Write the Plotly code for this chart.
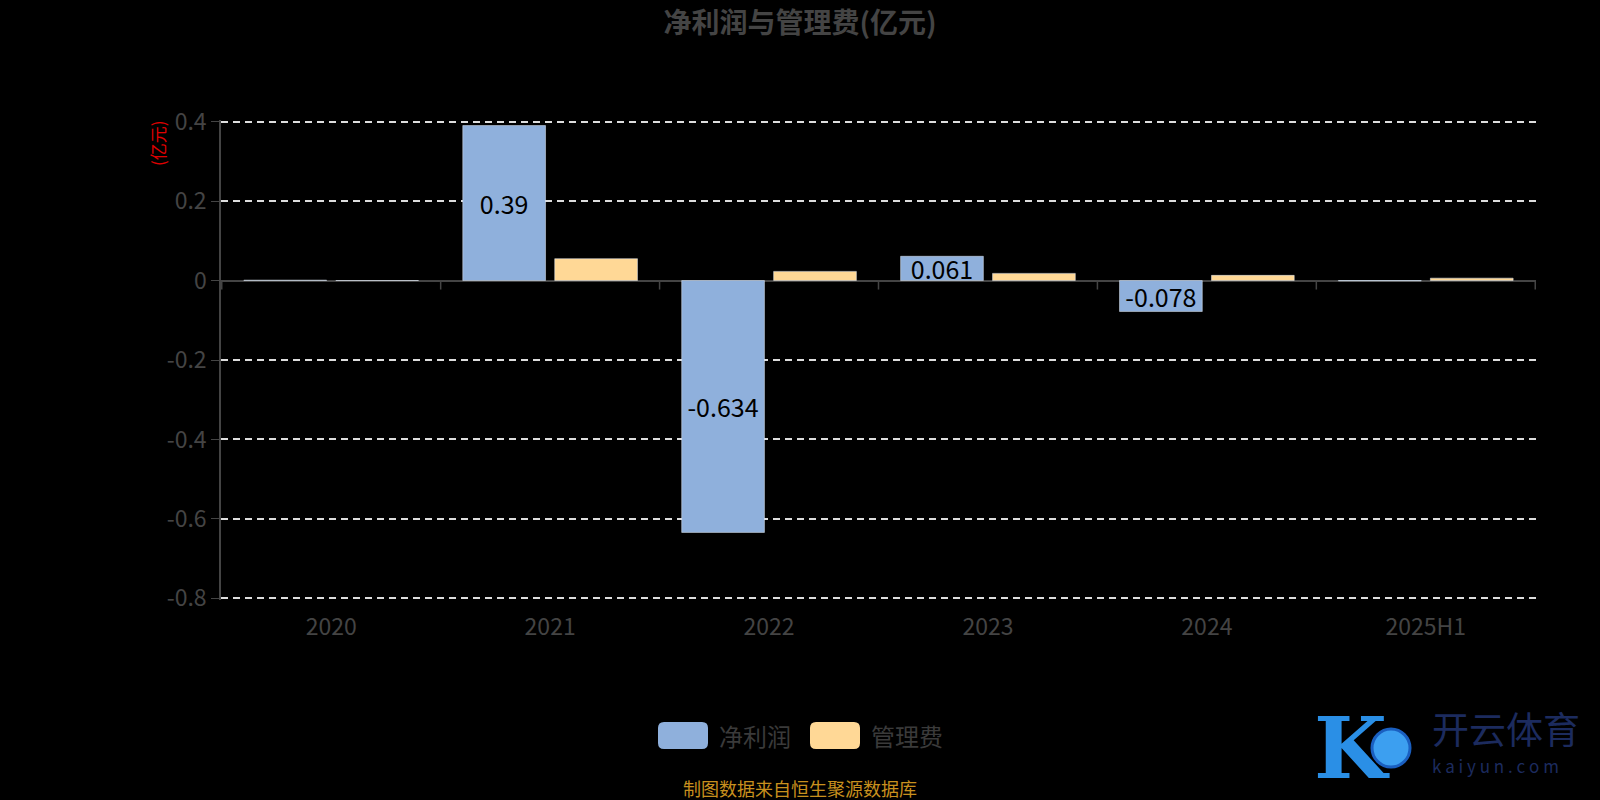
import plotly.graph_objects as go

# ---- data ----
categories = ["2020", "2021", "2022", "2023", "2024", "2025H1"]
net_profit = [0.001, 0.39, -0.634, 0.061, -0.078, -0.001]
net_profit_labels = ["", "0.39", "-0.634", "0.061", "-0.078", ""]
admin_fee = [0.0, 0.055, 0.023, 0.018, 0.013, 0.006]
y_ticks = [-0.8, -0.6, -0.4, -0.2, 0, 0.2, 0.4]
y_tick_text = ["-0.8", "-0.6", "-0.4", "-0.2", "0", "0.2", "0.4"]
series_names = ["净利润", "管理费"]
colors = ["#8fb0dc", "#ffd896"]

W, H = 1600, 800
L, R, T, B = 221, 1536, 120, 600
FONT = "Noto Sans CJK SC"
Y_RANGE = [-0.804, 0.404]


def px(x):
    return (x - L) / (R - L)


def py(y):
    return (B - y) / (B - T)


fig = go.Figure()
fig.add_trace(go.Bar(
    x=categories, y=net_profit, name=series_names[0], marker_color=colors[0],
    text=net_profit_labels, textposition="inside", insidetextanchor="middle",
    constraintext="none", textfont=dict(color="#000000", size=25, family=FONT),
    showlegend=False, hoverinfo="skip",
))
fig.add_trace(go.Bar(
    x=categories, y=admin_fee, name=series_names[1], marker_color=colors[1],
    showlegend=False, hoverinfo="skip",
))

shapes = []
# category boundary ticks under the zero line
for i in range(len(categories) + 1):
    shapes.append(dict(type="line", xref="x", yref="y", x0=i - 0.5, x1=i - 0.5,
                       ysizemode="pixel", yanchor=0, y0=0, y1=-9,
                       line=dict(color="#444444", width=1.5)))


def rounded_rect(x0, y0, x1, y1, r):
    rx = r / (R - L)
    ry = r / (B - T)
    a0, a1 = px(x0), px(x1)
    b0, b1 = py(y1), py(y0)
    return (f"M {a0+rx},{b0} L {a1-rx},{b0} Q {a1},{b0} {a1},{b0+ry} "
            f"L {a1},{b1-ry} Q {a1},{b1} {a1-rx},{b1} L {a0+rx},{b1} "
            f"Q {a0},{b1} {a0},{b1-ry} L {a0},{b0+ry} Q {a0},{b0} {a0+rx},{b0} Z")


legend_x = [658, 810]
for i, name in enumerate(series_names):
    shapes.append(dict(type="path", xref="paper", yref="paper",
                       path=rounded_rect(legend_x[i], 722, legend_x[i] + 50, 749, 6),
                       fillcolor=colors[i], line=dict(width=0)))

# logo ball
shapes.append(dict(type="circle", xref="paper", yref="paper",
                   x0=px(1372), x1=px(1410), y0=py(767), y1=py(729),
                   fillcolor="#3c9ff0", line=dict(color="#1a5fc0", width=3)))

annotations = []
annotations.append(dict(text="(亿元)", x=px(157), y=py(143), xref="paper", yref="paper",
                        xanchor="center", yanchor="middle",
                        textangle=-90, showarrow=False,
                        font=dict(color="#e00000", size=17, family=FONT)))
for i, name in enumerate(series_names):
    annotations.append(dict(text=name, x=px(legend_x[i] + 59), y=py(735),
                            xref="paper", yref="paper", xanchor="left", yanchor="middle",
                            showarrow=False,
                            font=dict(color="#3a3a3a", size=24, family=FONT)))
annotations.append(dict(text="制图数据来自恒生聚源数据库", x=px(800), y=py(788),
                        xref="paper", yref="paper", xanchor="center", yanchor="middle",
                        showarrow=False, font=dict(color="#c8901e", size=18, family=FONT)))
# logo texts
annotations.append(dict(text="<b>K</b>", x=px(1352), y=py(748), xref="paper", yref="paper",
                        xanchor="center", yanchor="middle", showarrow=False,
                        font=dict(color="#2a8fe6", size=84, family="DejaVu Serif")))
annotations.append(dict(text="开云体育", x=px(1430), y=py(728), xref="paper", yref="paper",
                        xanchor="left", yanchor="middle", showarrow=False,
                        font=dict(color="#1c2b5e", size=37, family=FONT)))
annotations.append(dict(text="k a i y u n . c o m", x=px(1430), y=py(765), xref="paper", yref="paper",
                        xanchor="left", yanchor="middle", showarrow=False,
                        font=dict(color="#1c2b5e", size=17, family=FONT)))

fig.update_layout(
    width=W, height=H,
    margin=dict(l=L, r=W - R, t=T, b=H - B),
    paper_bgcolor="#000000", plot_bgcolor="#000000",
    barmode="group", bargap=0.16, bargroupgap=0.1,
    title=dict(text="<b>净利润与管理费(亿元)</b>", x=0.5, xanchor="center",
               y=1 - 23 / H, yanchor="middle",
               font=dict(color="#444444", size=28, family=FONT)),
    font=dict(family=FONT),
    xaxis=dict(type="category", showgrid=False, showline=False, zeroline=False,
               ticks="outside", ticklen=6, tickcolor="rgba(0,0,0,0)",
               tickfont=dict(color="#444444", size=23, family=FONT)),
    yaxis=dict(range=Y_RANGE, tickvals=y_ticks, ticktext=y_tick_text,
               showgrid=True, gridcolor="#dddddd", gridwidth=1.5, griddash="7px,5px",
               zeroline=True, zerolinecolor="#444444", zerolinewidth=2,
               showline=True, linecolor="#444444", linewidth=1.5,
               ticks="outside", ticklen=8, tickcolor="#444444",
               tickfont=dict(color="#444444", size=23, family=FONT)),
    shapes=shapes, annotations=annotations,
    showlegend=False,
)

fig.write_html("out.html", config={"displayModeBar": False},
               post_script="document.body.style.margin='0';")
